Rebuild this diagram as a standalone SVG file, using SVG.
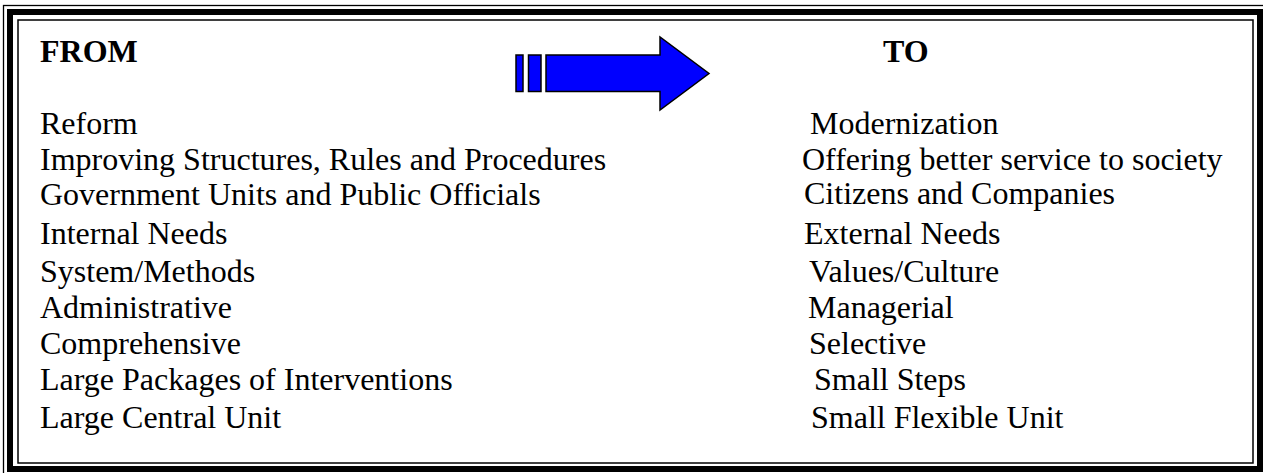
<svg xmlns="http://www.w3.org/2000/svg" width="1263" height="473" viewBox="0 0 1263 473">
<style>
.t{font-family:"Liberation Serif","Times New Roman",serif;font-size:32px;fill:#000}
.h{font-weight:bold}
.fr{fill:none;stroke:#000}
.ar{fill:#0000FF;stroke:#000;stroke-width:1.5;stroke-linejoin:miter}
</style>
<rect width="1263" height="473" fill="#fff"/>
<g id="frame">
<rect class="fr" x="3.5" y="5.5" width="1263" height="470" stroke-width="1.3"/>
<rect class="fr" x="10" y="12" width="1250" height="457" stroke-width="6"/>
<rect class="fr" x="18" y="20" width="1235" height="443" stroke-width="1.5"/>
</g>
<g id="arrow">
<rect class="ar" x="516" y="55" width="7" height="36.5"/>
<rect class="ar" x="528.5" y="55" width="12.5" height="36.5"/>
<polygon class="ar" points="546,55 660,55 660,37 709,73.5 660,110 660,91.5 546,91.5"/>
</g>
<g id="from">
<text class="t h" x="40" y="61.5">FROM</text>
<text class="t" x="40" y="134">Reform</text>
<text class="t" x="40" y="169.5">Improving Structures, Rules and Procedures</text>
<text class="t" x="40" y="205">Government Units and Public Officials</text>
<text class="t" x="40" y="244">Internal Needs</text>
<text class="t" x="40" y="281.5">System/Methods</text>
<text class="t" x="40" y="318">Administrative</text>
<text class="t" x="40" y="354">Comprehensive</text>
<text class="t" x="40" y="390">Large Packages of Interventions</text>
<text class="t" x="40" y="428">Large Central Unit</text>
</g>
<g id="to">
<text class="t h" x="883" y="61.5">TO</text>
<text class="t" x="810" y="134">Modernization</text>
<text class="t" x="802" y="169.5">Offering better service to society</text>
<text class="t" x="804" y="204">Citizens and Companies</text>
<text class="t" x="804" y="244">External Needs</text>
<text class="t" x="809" y="281.5">Values/Culture</text>
<text class="t" x="808" y="318">Managerial</text>
<text class="t" x="809" y="354">Selective</text>
<text class="t" x="814" y="390">Small Steps</text>
<text class="t" x="811" y="428">Small Flexible Unit</text>
</g>
</svg>
